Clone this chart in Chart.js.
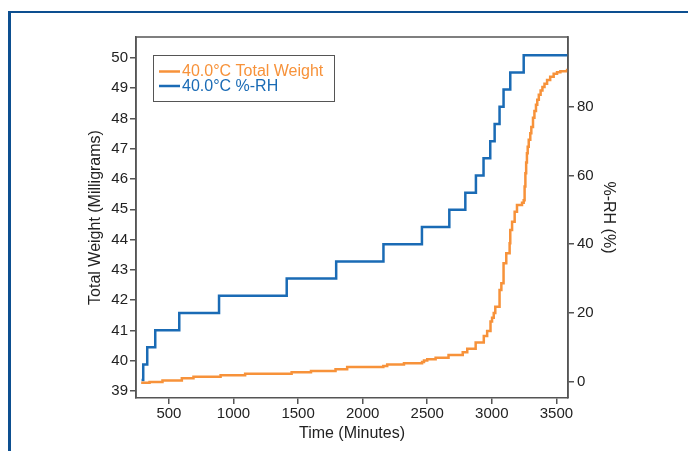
<!DOCTYPE html>
<html>
<head>
<meta charset="utf-8">
<script src="https://cdn.jsdelivr.net/npm/chart.js@4/dist/chart.umd.min.js"></script>
<style>
  html, body { margin: 0; padding: 0; background: #fff; }
  #wrap { position: relative; width: 688px; height: 451px; overflow: hidden; }
  #frame {
    position: absolute; left: 8px; top: 11px; width: 720px; height: 480px;
    border-top: 2.5px solid #0d4f90; border-left: 3px solid #0d4f90;
  }
  canvas { position: absolute; left: 0; top: 0; }
</style>
</head>
<body>
<div id="wrap">
  <div id="frame"></div>
  <canvas id="chart" width="688" height="451"></canvas>
</div>
<script>
// ── Data ────────────────────────────────────────────────────────────────────
const rhTimes  = [288, 301, 332, 394, 580, 888, 1412, 1795, 2161, 2459, 2671,
                  2795, 2877, 2936, 2988, 3022, 3060, 3091, 3143, 3247, 3590];
const rhValues = [0.5, 5, 10, 15, 20, 25, 30, 35, 40, 45, 50,
                  55, 60, 65, 70, 75, 80, 85, 90, 95, 95];

const weightTimes  = [285, 350, 450, 600, 690, 900, 1090, 1450, 1600, 1790,
                      1880, 2160, 2190, 2320, 2460, 2475, 2500, 2565, 2665, 2775,
                      2810, 2875, 2938, 2964, 2990, 3002, 3015, 3027, 3060, 3074,
                      3091, 3112, 3138, 3143, 3157, 3177, 3195, 3234, 3247, 3254,
                      3260, 3266, 3272, 3278, 3286, 3298, 3306, 3319, 3330, 3342,
                      3352, 3364, 3378, 3392, 3408, 3428, 3452, 3479, 3505, 3531,
                      3583, 3590];
const weightValues = [39.27, 39.30, 39.35, 39.42, 39.47, 39.52, 39.57, 39.62, 39.66, 39.72,
                      39.79, 39.83, 39.88, 39.92, 39.96, 40.01, 40.05, 40.10, 40.19, 40.28,
                      40.40, 40.60, 40.82, 40.98, 41.30, 41.42, 41.58, 41.78, 42.34, 42.56,
                      43.22, 43.55, 43.88, 44.32, 44.59, 44.92, 45.14, 45.22, 45.30, 45.75,
                      46.19, 46.55, 46.85, 47.07, 47.30, 47.51, 47.72, 48.02, 48.25, 48.45,
                      48.62, 48.78, 48.92, 49.04, 49.15, 49.27, 49.38, 49.48, 49.53, 49.56,
                      49.60, 49.61];

// tick labels
const timeTicks   = [500, 1000, 1500, 2000, 2500, 3000, 3500];
const weightTicks = [39, 40, 41, 42, 43, 44, 45, 46, 47, 48, 49, 50];
const rhTicks     = [0, 20, 40, 60, 80];

const ORANGE = '#f7923a';
const BLUE   = '#1a6bb5';
const AXIS   = '#555555';
const FONT   = '"Liberation Sans", Arial, Helvetica, sans-serif';

const toPoints = (xs, ys) => xs.map((x, i) => ({ x, y: ys[i] }));
const fixTicks = values => scale => { scale.ticks = values.map(value => ({ value })); };

// Plot frame (top + right border) around the chart area
const framePlugin = {
  id: 'plotFrame',
  afterDraw(chart) {
    const { ctx, chartArea: { left, top, right, bottom } } = chart;
    ctx.save();
    ctx.strokeStyle = AXIS;
    ctx.lineWidth = 1.5;
    ctx.beginPath();
    ctx.moveTo(left, bottom);
    ctx.lineTo(left, top);
    ctx.lineTo(right, top);
    ctx.lineTo(right, bottom);
    ctx.stroke();
    ctx.restore();
  }
};

// Legend box drawn inside the plot, top-left
const boxLegend = {
  id: 'boxLegend',
  afterDraw(chart) {
    const { ctx } = chart;
    const x = 153, y = 55, w = 181, h = 46;
    ctx.save();
    ctx.fillStyle = '#fff';
    ctx.fillRect(x, y, w, h);
    ctx.strokeStyle = AXIS;
    ctx.lineWidth = 1;
    ctx.strokeRect(x + 0.5, y + 0.5, w, h);
    ctx.font = '16px ' + FONT;
    ctx.textBaseline = 'middle';
    chart.data.datasets.forEach((ds, i) => {
      const ry = 71.5 + i * 14.5;
      ctx.strokeStyle = ds.borderColor;
      ctx.lineWidth = 2.5;
      ctx.beginPath();
      ctx.moveTo(159, ry);
      ctx.lineTo(180, ry);
      ctx.stroke();
      ctx.fillStyle = ds.borderColor;
      ctx.fillText(ds.label, 182, ry + 0.5);
    });
    ctx.restore();
  }
};

const tickFont  = { family: FONT, size: 15 };
const titleFont = { family: FONT, size: 16 };
const plain = v => String(v);

new Chart(document.getElementById('chart'), {
  type: 'line',
  data: {
    datasets: [
      {
        label: '40.0°C Total Weight',
        data: toPoints(weightTimes, weightValues),
        yAxisID: 'y',
        borderColor: ORANGE,
        borderWidth: 2.5,
        stepped: true,
        pointRadius: 0,
        fill: false
      },
      {
        label: '40.0°C %-RH',
        data: toPoints(rhTimes, rhValues),
        yAxisID: 'y1',
        borderColor: BLUE,
        borderWidth: 2.5,
        stepped: true,
        pointRadius: 0,
        fill: false
      }
    ]
  },
  options: {
    responsive: false,
    animation: false,
    layout: { padding: { left: 82, right: 66, top: 37, bottom: 4 } },
    plugins: { legend: { display: false }, tooltip: { enabled: false } },
    scales: {
      x: {
        type: 'linear',
        position: 'bottom',
        min: 245, max: 3590,
        afterBuildTicks: fixTicks(timeTicks),
        border: { color: AXIS, width: 1.5 },
        grid: { drawOnChartArea: false, color: AXIS, tickLength: 6, lineWidth: 1.5 },
        ticks: { color: '#222', font: tickFont, padding: 1, maxRotation: 0, autoSkip: false, callback: plain },
        title: { display: true, text: 'Time (Minutes)', color: '#222', font: titleFont, padding: { top: 2, bottom: 4 } },
        afterFit(scale) { scale.height = 49; }
      },
      y: {
        type: 'linear',
        position: 'left',
        min: 38.77, max: 50.69,
        afterBuildTicks: fixTicks(weightTicks),
        border: { color: AXIS, width: 1.5 },
        grid: { drawOnChartArea: false, color: AXIS, tickLength: 6, lineWidth: 1.5 },
        ticks: { color: '#222', font: tickFont, padding: 2, autoSkip: false, callback: plain },
        title: { display: true, text: 'Total Weight (Milligrams)', color: '#222', font: titleFont, padding: { top: 4, bottom: 4 } },
        afterFit(scale) { scale.width = 54; }
      },
      y1: {
        type: 'linear',
        position: 'right',
        min: -4.74, max: 100.3,
        afterBuildTicks: fixTicks(rhTicks),
        border: { color: AXIS, width: 1.5 },
        grid: { drawOnChartArea: false, color: AXIS, tickLength: 6, lineWidth: 1.5 },
        ticks: { color: '#222', font: tickFont, padding: 3, autoSkip: false, callback: plain },
        title: { display: true, text: '%-RH (%)', color: '#222', font: titleFont, padding: { top: 4, bottom: 4 } },
        afterFit(scale) { scale.width = 54; }
      }
    }
  },
  plugins: [framePlugin, boxLegend]
});
</script>
</body>
</html>
